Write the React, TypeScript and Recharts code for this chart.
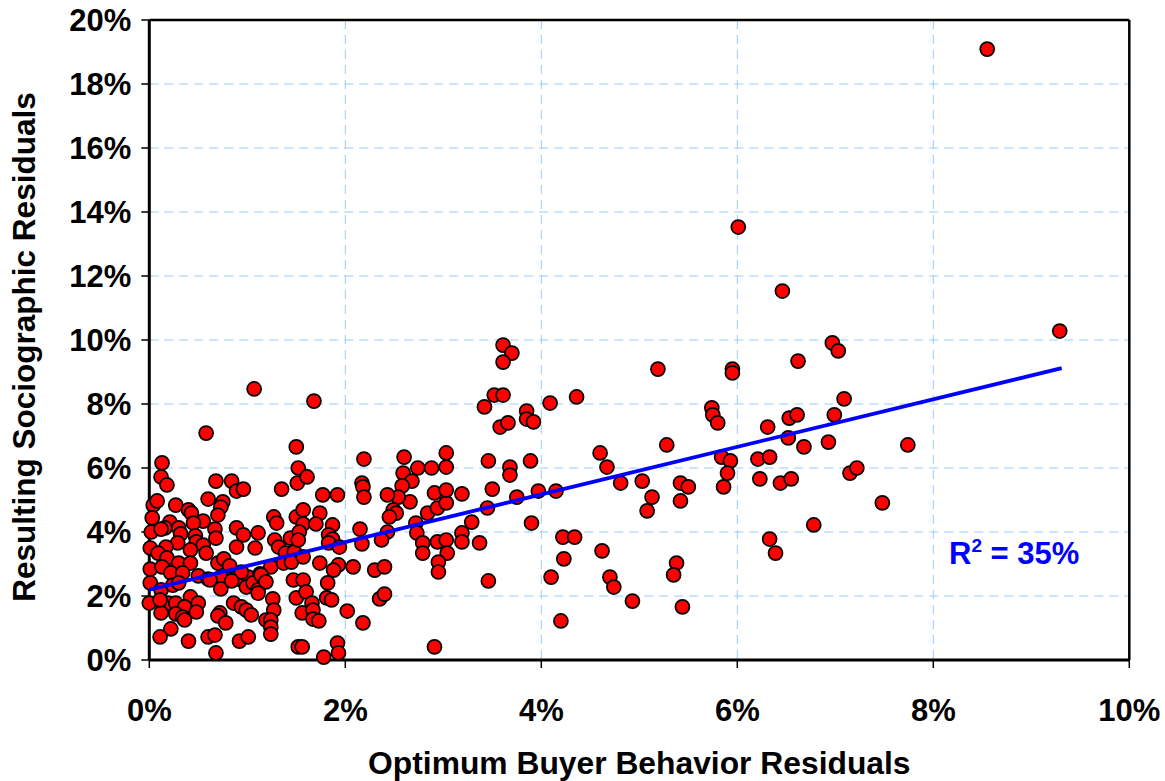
import React from 'react';
import { ScatterChart, Scatter, XAxis, YAxis, CartesianGrid, ReferenceLine, Label } from 'recharts';

// Axis ticks (percent)
const xTicks = [0, 2, 4, 6, 8, 10];
const yTicks = [0, 2, 4, 6, 8, 10, 12, 14, 16, 18, 20];

// Regression line (percent)
const trendX = [0, 9.31];
const trendY = [2.2, 9.12];
const rSquaredLabel = '35%';

// Observations, buyer-behavior residual (x, %) vs sociographic residual (y, %)
const leftUpperX = [1.07, 0.58, 0.13, 0.12, 0.18, 0.68, 0.84, 0.89, 0.96, 1.35, 1.5, 1.52, 1.51, 0.6, 0.75, 0.73, 0.04, 0.08, 0.27, 0.7, 0.4, 0.43, 0.55, 0.45, 0.03, 0.02, 0.21, 0.16, 0.67, 0.68, 0.3, 0.32, 1.27, 1.3, 0.89, 0.96, 1.11, 1.28, 1.44, 1.5, 0.47, 0.48, 0.29, 0.55, 0.17, 0.01, 0.42, 0.89, 1.08, 1.32, 0.12];
const leftUpperY = [8.47, 7.09, 6.16, 5.72, 5.47, 5.59, 5.59, 5.28, 5.34, 5.34, 6.66, 6.0, 5.53, 5.03, 4.94, 4.78, 4.84, 4.97, 4.84, 4.53, 4.69, 4.59, 4.34, 4.28, 4.44, 4.0, 4.31, 4.13, 4.09, 3.81, 4.13, 3.94, 4.47, 4.28, 4.13, 3.91, 3.97, 3.75, 3.81, 4.47, 3.88, 3.69, 3.66, 3.59, 3.53, 3.5, 3.44, 3.53, 3.5, 3.53, 4.09];

const leftLowerX = [0.09, 1.39, 1.48, 0.18, 0.3, 0.42, 0.58, 0.7, 0.76, 0.82, 0.01, 0.13, 0.22, 0.34, 0.5, 0.6, 0.73, 0.91, 1.01, 0.94, 1.13, 1.24, 1.37, 1.45, 0.01, 0.12, 0.24, 0.3, 0.62, 0.73, 0.84, 0.99, 1.06, 1.11, 1.14, 1.19, 1.47, 0.0, 0.19, 0.27, 0.42, 0.36, 0.5, 0.48, 0.12, 0.27, 0.34, 0.36, 0.72, 0.7, 0.78, 0.86, 0.94, 0.99, 1.04, 1.11, 1.26, 1.27, 1.19, 1.24, 1.24, 1.24, 1.5, 0.22, 0.11, 0.4, 0.6, 0.67, 0.92, 1.01, 0.68, 1.52, 0.11];
const leftLowerY = [3.34, 3.34, 3.38, 3.19, 3.03, 3.03, 3.34, 3.03, 3.16, 2.94, 2.84, 2.91, 2.72, 2.72, 2.63, 2.53, 2.59, 2.53, 2.59, 2.75, 2.69, 2.91, 3.03, 3.06, 2.41, 2.19, 2.34, 2.41, 2.5, 2.22, 2.47, 2.28, 2.41, 2.19, 2.66, 2.44, 2.5, 1.78, 1.78, 1.78, 1.97, 1.66, 1.78, 1.5, 1.47, 1.44, 1.34, 1.25, 1.47, 1.38, 1.16, 1.78, 1.66, 1.56, 1.41, 2.09, 1.91, 1.56, 1.25, 1.25, 1.03, 0.81, 1.94, 0.97, 0.72, 0.59, 0.72, 0.78, 0.59, 0.72, 0.22, 0.41, 1.88];

const midUpperX = [1.68, 2.19, 2.6, 2.74, 2.88, 3.03, 3.03, 2.59, 2.68, 2.58, 2.91, 2.66, 2.54, 2.43, 1.61, 1.77, 1.92, 2.17, 2.18, 2.19, 2.49, 2.52, 2.45, 2.84, 2.94, 3.03, 3.03, 1.57, 1.57, 1.74, 1.7, 1.87, 2.15, 2.43, 2.72, 2.73, 1.83, 1.87, 1.53, 1.52, 1.83, 1.94, 2.17, 2.37, 2.79, 2.94, 3.03];
const midUpperY = [8.09, 6.28, 6.34, 6.0, 6.0, 6.47, 6.03, 5.84, 5.59, 5.44, 5.22, 4.94, 5.09, 5.16, 5.72, 5.16, 5.16, 5.53, 5.41, 5.09, 4.69, 4.59, 4.47, 4.59, 4.75, 4.91, 5.31, 4.69, 4.25, 4.59, 4.25, 4.22, 4.09, 4.0, 4.28, 3.97, 3.91, 3.78, 4.0, 3.75, 3.66, 3.53, 3.63, 3.75, 3.66, 3.69, 3.75];

const midLowerX = [2.79, 3.04, 2.95, 2.95, 1.57, 1.74, 1.93, 1.88, 2.08, 2.3, 2.4, 1.57, 1.82, 1.6, 1.66, 1.81, 1.86, 1.56, 1.67, 1.67, 1.73, 2.02, 2.18, 2.35, 2.4, 1.56, 1.92, 1.93, 1.78, 2.91];
const midLowerY = [3.34, 3.34, 3.06, 2.75, 3.22, 3.03, 2.97, 2.81, 2.91, 2.81, 2.91, 2.5, 2.41, 2.13, 1.78, 1.94, 1.88, 1.47, 1.56, 1.28, 1.22, 1.53, 1.16, 1.91, 2.06, 0.41, 0.53, 0.22, 0.09, 0.41];

const centerX = [3.61, 3.7, 3.61, 3.52, 3.61, 3.42, 4.09, 4.36, 3.85, 3.85, 3.92, 3.58, 3.66, 3.46, 3.68, 3.68, 3.89, 4.6, 4.67, 3.5, 3.19, 3.75, 3.97, 4.15, 4.81, 3.45, 3.29, 3.9, 3.19, 3.19, 3.37, 3.46, 4.22, 4.34, 4.23, 4.1, 4.62, 4.7, 4.74, 4.2];
const centerY = [9.84, 9.59, 9.31, 8.28, 8.28, 7.91, 8.03, 8.22, 7.78, 7.53, 7.44, 7.28, 7.41, 6.22, 6.03, 5.78, 6.22, 6.47, 6.03, 5.34, 5.19, 5.09, 5.28, 5.28, 5.53, 4.75, 4.31, 4.28, 3.97, 3.69, 3.66, 2.47, 3.84, 3.84, 3.16, 2.59, 3.41, 2.59, 2.28, 1.22];

const rightX = [6.01, 6.46, 6.97, 7.03, 6.62, 5.19, 5.95, 5.95, 7.09, 5.74, 5.75, 5.8, 6.53, 6.61, 6.99, 6.31, 5.28, 6.52, 6.93, 6.68, 5.03, 5.13, 5.08, 5.42, 5.5, 5.42, 5.84, 5.93, 5.9, 5.86, 6.21, 6.33, 6.23, 6.44, 6.55, 7.15, 7.22, 6.78, 6.33, 6.39, 4.93, 5.38, 5.35, 5.44, 8.55, 9.29, 7.74, 7.48];
const rightY = [13.53, 11.53, 9.91, 9.66, 9.34, 9.09, 9.09, 8.97, 8.16, 7.88, 7.66, 7.41, 7.56, 7.66, 7.66, 7.28, 6.72, 6.94, 6.81, 6.66, 5.59, 5.09, 4.66, 5.53, 5.41, 4.97, 6.34, 6.22, 5.84, 5.41, 6.28, 6.34, 5.66, 5.53, 5.66, 5.84, 6.0, 4.22, 3.78, 3.34, 1.84, 3.03, 2.66, 1.66, 19.09, 10.28, 6.72, 4.91];

const zip = (xs: number[], ys: number[]) => xs.map((x, i) => ({ x, y: ys[i] }));

const points = [
  ...zip(leftUpperX, leftUpperY),
  ...zip(leftLowerX, leftLowerY),
  ...zip(midUpperX, midUpperY),
  ...zip(midLowerX, midLowerY),
  ...zip(centerX, centerY),
  ...zip(rightX, rightY),
];
const trend = zip(trendX, trendY);

const FONT = '"Liberation Sans", Arial, sans-serif';

const Dot = (props: any) => {
  const { cx, cy } = props;
  if (cx == null || cy == null) return <g />;
  return <circle cx={cx} cy={cy} r={7} fill="#FF0000" stroke="#000000" strokeWidth={1.7} />;
};

const NoDot = () => <g />;

const tickStyle = { fill: '#000000', fontSize: 31, fontWeight: 'bold', fontFamily: FONT };

const YTitle = (props: any) => {
  const vb = props.viewBox || { x: 0, y: 20, width: 149.3, height: 640 };
  const cx = vb.x + 24;
  const cy = vb.y + vb.height / 2 + 7;
  return (
    <text
      x={cx}
      y={cy}
      transform={`rotate(-90 ${cx} ${cy})`}
      textAnchor="middle"
      dy="0.355em"
      fill="#000000"
      fontSize={31.5}
      fontWeight="bold"
      fontFamily={FONT}
    >
      Resulting Sociographic Residuals
    </text>
  );
};

export default function App() {
  return (
    <div style={{ position: 'absolute', left: 0, top: 0, width: 1165, height: 781, background: '#ffffff' }}>
      <ScatterChart width={1165} height={781} margin={{ top: 20, right: 35.7, bottom: 0, left: 0 }}>
        <CartesianGrid stroke="#99CCFF" strokeDasharray="9 6" strokeWidth={1} />
        <XAxis
          type="number"
          dataKey="x"
          domain={[0, 10]}
          ticks={xTicks}
          interval={0}
          tickFormatter={(v: number) => `${v}%`}
          height={121}
          tickSize={8}
          tickMargin={31}
          axisLine={{ stroke: '#000000', strokeWidth: 3 }}
          tickLine={{ stroke: '#000000', strokeWidth: 1.5 }}
          tick={tickStyle}
          label={{
            value: 'Optimum Buyer Behavior Residuals',
            position: 'insideBottom',
            offset: 7,
            style: { fill: '#000000', fontSize: 31.8, fontWeight: 'bold', fontFamily: FONT, textAnchor: 'middle' },
          }}
        />
        <YAxis
          type="number"
          dataKey="y"
          domain={[0, 20]}
          ticks={yTicks}
          interval={0}
          tickFormatter={(v: number) => `${v}%`}
          width={149.3}
          tickSize={8}
          tickMargin={10}
          axisLine={{ stroke: '#000000', strokeWidth: 3 }}
          tickLine={{ stroke: '#000000', strokeWidth: 1.5 }}
          tick={tickStyle}
        >
          <Label content={YTitle} />
        </YAxis>
        <ReferenceLine y={20} stroke="#000000" strokeWidth={2.5} />
        <ReferenceLine x={10} stroke="#000000" strokeWidth={2.5} />
        <Scatter data={points} shape={Dot} isAnimationActive={false} />
        <Scatter
          data={trend}
          shape={NoDot}
          line={{ stroke: '#0000FF', strokeWidth: 3.8 }}
          isAnimationActive={false}
        />
      </ScatterChart>
      <div
        style={{
          position: 'absolute',
          left: 949,
          top: 538,
          fontFamily: FONT,
          fontWeight: 'bold',
          fontSize: 31,
          lineHeight: '31px',
          color: '#0000FF',
          whiteSpace: 'nowrap',
        }}
      >
        R<span style={{ fontSize: 19, position: 'relative', top: -12 }}>2</span> = {rSquaredLabel}
      </div>
    </div>
  );
}
